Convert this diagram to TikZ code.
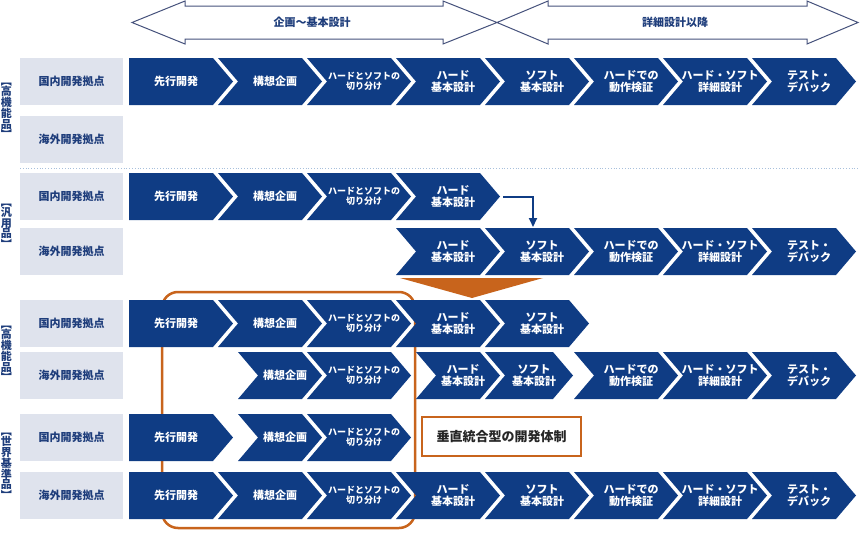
\documentclass[tikz,border=0pt]{standalone}
\usepackage{fontspec}
\setmainfont{Noto Sans CJK JP}
\newfontfamily\vertjp{Noto Sans CJK JP}[RawFeature=+vert]
\usetikzlibrary{arrows.meta}
\definecolor{navy}{HTML}{0F3C84}
\definecolor{labfill}{HTML}{DFE3ED}
\definecolor{labtext}{HTML}{1E3D7B}
\definecolor{rust}{HTML}{C8641C}
\definecolor{phaseline}{HTML}{46527C}
\definecolor{dotline}{HTML}{A8C0DC}
\tikzset{
  stepfill/.style={fill=navy},
  steptext/.style={text=white, font=\bfseries\fontsize{11}{11.5}\selectfont, align=center, inner sep=0pt},
  splittext/.style={font=\bfseries\fontsize{9}{10}\selectfont},
  sitebox/.style={fill=labfill, text=labtext, font=\bfseries\fontsize{11}{12}\selectfont, minimum width=103pt, minimum height=47pt, inner sep=0pt},
  grouptext/.style={text=labtext, font=\vertjp\bfseries\fontsize{11}{10.5}\selectfont, align=center, inner sep=0pt},
  phasetext/.style={text=labtext, font=\bfseries\fontsize{11}{12}\selectfont, inner sep=0pt},
  phasearrow/.style={draw=phaseline, line width=1pt, fill=white},
  focusbox/.style={draw=rust, line width=2.5pt, fill=white, text=black!85, font=\bfseries\fontsize{13}{14}\selectfont, minimum width=159pt, minimum height=39pt, inner sep=0pt},
  flowarrow/.style={draw=navy, line width=2pt, -{Triangle[width=8pt,length=9pt]}}
}
% #2 name, #3 left x, #4 top y, #5 body width, #6 notch depth, #7 text
\newcommand{\stepchev}[7][]{%
  \fill[stepfill] (#3,#4) -- ++(#5,0) -- ++(20,23.5) -- ++(-20,23.5) -- ++(-#5,0) -- ++(#6,-23.5) -- cycle;
  \coordinate (#2-tip) at ({#3+#5+20},{#4+23.5});
  \node[steptext,#1] (#2) at ({#3+#5/2+#6/2+5},{#4+23.5}) {#7};
}
\begin{document}
\begin{tikzpicture}[x=1pt,y=-1pt]
\useasboundingbox (0,0) rectangle (860,541);
\draw[phasearrow] (132,22.5) -- (185,1) -- (185,6) -- (443,6) -- (443,1) -- (497,22.5) -- (443,44) -- (443,39) -- (185,39) -- (185,44) -- cycle;
\draw[phasearrow] (497,22.5) -- (548,1) -- (548,6) -- (807,6) -- (807,1) -- (858,22.5) -- (807,44) -- (807,39) -- (548,39) -- (548,44) -- cycle;
\node[phasetext] (phase1) at (312,22.5) {企画～基本設計};
\node[phasetext] (phase2) at (675,22.5) {詳細設計以降};

\node[grouptext] (grp1) at (6.5,111) {【\\高\\機\\能\\品\\】};
\node[grouptext] (grp2) at (6.5,226) {【\\汎\\用\\品\\】};
\node[grouptext] (grp3) at (6.5,354) {【\\高\\機\\能\\品\\】};
\node[grouptext] (grp4) at (6.5,466) {【\\世\\界\\基\\準\\品\\】};

\node[sitebox] (site1) at (71.5,81.5) {国内開発拠点};
\node[sitebox] (site2) at (71.5,139.5) {海外開発拠点};
\node[sitebox] (site3) at (71.5,196.5) {国内開発拠点};
\node[sitebox] (site4) at (71.5,251.5) {海外開発拠点};
\node[sitebox] (site5) at (71.5,323.5) {国内開発拠点};
\node[sitebox] (site6) at (71.5,375.5) {海外開発拠点};
\node[sitebox] (site7) at (71.5,437.5) {国内開発拠点};
\node[sitebox] (site8) at (71.5,495.5) {海外開発拠点};

\draw[dotline, dotted, line width=0.8pt] (20,168) -- (858,168);
\draw[rust, line width=2.5pt, rounded corners=16pt] (162,292) rectangle (415,528);
\fill[rust] (400,278) -- (543,278) -- (472,298) -- cycle;

\stepchev{r1s1}{129}{58}{84}{0}{先行開発}
\stepchev{r1s2}{218}{58}{84}{20}{構想企画}
\stepchev[splittext]{r1s3}{307}{58}{84}{20}{ハードとソフトの\\切り分け}
\stepchev{r1s4}{396}{58}{84}{20}{ハード\\基本設計}
\stepchev{r1s5}{485}{58}{84}{20}{ソフト\\基本設計}
\stepchev{r1s6}{574}{58}{84}{20}{ハードでの\\動作検証}
\stepchev{r1s7}{663}{58}{84}{20}{ハード・ソフト\\詳細設計}
\stepchev{r1s8}{752}{58}{84}{20}{テスト・\\デバック}

\stepchev{r3s1}{129}{173}{84}{0}{先行開発}
\stepchev{r3s2}{218}{173}{84}{20}{構想企画}
\stepchev[splittext]{r3s3}{307}{173}{84}{20}{ハードとソフトの\\切り分け}
\stepchev{r3s4}{396}{173}{84}{20}{ハード\\基本設計}

\stepchev{r4s4}{396}{228}{84}{20}{ハード\\基本設計}
\stepchev{r4s5}{485}{228}{84}{20}{ソフト\\基本設計}
\stepchev{r4s6}{574}{228}{84}{20}{ハードでの\\動作検証}
\stepchev{r4s7}{663}{228}{84}{20}{ハード・ソフト\\詳細設計}
\stepchev{r4s8}{752}{228}{84}{20}{テスト・\\デバック}
\coordinate (drop) at (533,227);
\draw[flowarrow] ([xshift=3pt]r3s4-tip) -| (drop);

\stepchev{r5s1}{129}{300}{84}{0}{先行開発}
\stepchev{r5s2}{218}{300}{84}{20}{構想企画}
\stepchev[splittext]{r5s3}{307}{300}{84}{20}{ハードとソフトの\\切り分け}
\stepchev{r5s4}{396}{300}{84}{20}{ハード\\基本設計}
\stepchev{r5s5}{485}{300}{84}{20}{ソフト\\基本設計}

\stepchev{r6s2}{238}{352}{64}{20}{構想企画}
\stepchev[splittext]{r6s3}{307}{352}{84}{20}{ハードとソフトの\\切り分け}
\stepchev{r6s4}{416}{352}{64}{20}{ハード\\基本設計}
\stepchev{r6s5}{485}{352}{68}{20}{ソフト\\基本設計}
\stepchev{r6s6}{574}{352}{84}{20}{ハードでの\\動作検証}
\stepchev{r6s7}{663}{352}{84}{20}{ハード・ソフト\\詳細設計}
\stepchev{r6s8}{752}{352}{84}{20}{テスト・\\デバック}

\stepchev{r7s1}{129}{414}{84}{0}{先行開発}
\stepchev{r7s2}{238}{414}{64}{20}{構想企画}
\stepchev[splittext]{r7s3}{307}{414}{84}{20}{ハードとソフトの\\切り分け}
\node[focusbox] (vbox) at (501.5,436.5) {垂直統合型の開発体制};

\stepchev{r8s1}{129}{472}{84}{0}{先行開発}
\stepchev{r8s2}{218}{472}{84}{20}{構想企画}
\stepchev[splittext]{r8s3}{307}{472}{84}{20}{ハードとソフトの\\切り分け}
\stepchev{r8s4}{396}{472}{84}{20}{ハード\\基本設計}
\stepchev{r8s5}{485}{472}{84}{20}{ソフト\\基本設計}
\stepchev{r8s6}{574}{472}{84}{20}{ハードでの\\動作検証}
\stepchev{r8s7}{663}{472}{84}{20}{ハード・ソフト\\詳細設計}
\stepchev{r8s8}{752}{472}{84}{20}{テスト・\\デバック}
\end{tikzpicture}
\end{document}
